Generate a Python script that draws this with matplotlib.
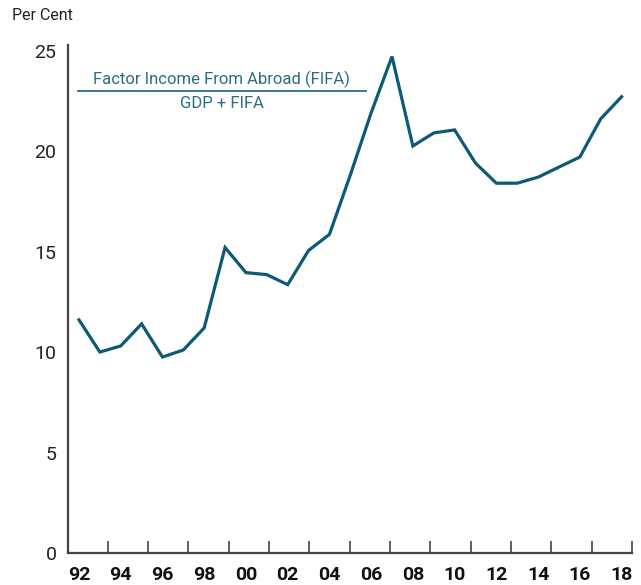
import matplotlib
matplotlib.use("Agg")
import matplotlib.pyplot as plt
import numpy as np

# chart colours
LINE_COLOR = "#0d5a76"
NOTE_COLOR = "#2c6d86"
AXIS_COLOR = "#444444"
TEXT_COLOR = "#222222"

plt.rcParams["font.family"] = ["Roboto", "DejaVu Sans"]

# data
years = list(range(1992, 2019))
fifa_share = [11.6, 10.0, 10.3, 11.4, 9.75, 10.1, 11.2, 15.2, 13.95, 13.85,
              13.35, 15.05, 15.85, 18.8, 21.9, 24.7, 20.25, 20.9, 21.05, 19.4,
              18.4, 18.4, 18.7, 19.2, 19.7, 21.6, 22.7]
label_years = list(range(1992, 2019, 2))
label_text = [f"{y % 100:02d}" for y in label_years]
y_ticks = [0, 5, 10, 15, 20, 25]

W, H = 641, 585
fig = plt.figure(figsize=(W / 100, H / 100), dpi=100)
ax = fig.add_axes([67.5 / W, 1 - 553 / H, (632 - 67.5) / W, (553 - 44.5) / H])

ax.plot(years, fifa_share, color=LINE_COLOR, linewidth=2.3, solid_joinstyle="miter")

x0, x1 = 1991.45, 2018.5
ax.set_xlim(x0, x1)
ax.set_ylim(0, 25.3)

for side in ["top", "right"]:
    ax.spines[side].set_visible(False)
for side in ["left", "bottom"]:
    ax.spines[side].set_color(AXIS_COLOR)
    ax.spines[side].set_linewidth(1.6)

# year labels (no marks) and separate inward tick marks
ax.set_xticks(label_years)
ax.set_xticklabels(label_text, fontsize=14, fontweight="bold", color="#111111")
ax.tick_params(axis="x", which="major", length=0, pad=9)
ax.set_xticks(np.linspace(x0, x1, 15)[1:], minor=True)
ax.tick_params(axis="x", which="minor", direction="in", length=9, width=1.2, color=AXIS_COLOR)

ax.set_yticks(y_ticks)
ax.set_yticklabels([str(v) for v in y_ticks], fontsize=14, color=TEXT_COLOR)
ax.tick_params(axis="y", length=0, pad=8)

fig.text(12 / W, 1 - 15 / H, "Per Cent", fontsize=11.5, color=TEXT_COLOR, va="center", ha="left")

# fraction note
fig.text(221.7 / W, 1 - 79 / H, "Factor Income From Abroad (FIFA)", fontsize=12,
         color=NOTE_COLOR, ha="center", va="center")
fig.add_artist(plt.Line2D([77.7 / W, 365.7 / W], [1 - 90.7 / H, 1 - 90.7 / H],
                          color=NOTE_COLOR, linewidth=1.3))
fig.text(221.7 / W, 1 - 104 / H, "GDP + FIFA", fontsize=12,
         color=NOTE_COLOR, ha="center", va="center")

fig.savefig("out.png", dpi=100, facecolor="white")
